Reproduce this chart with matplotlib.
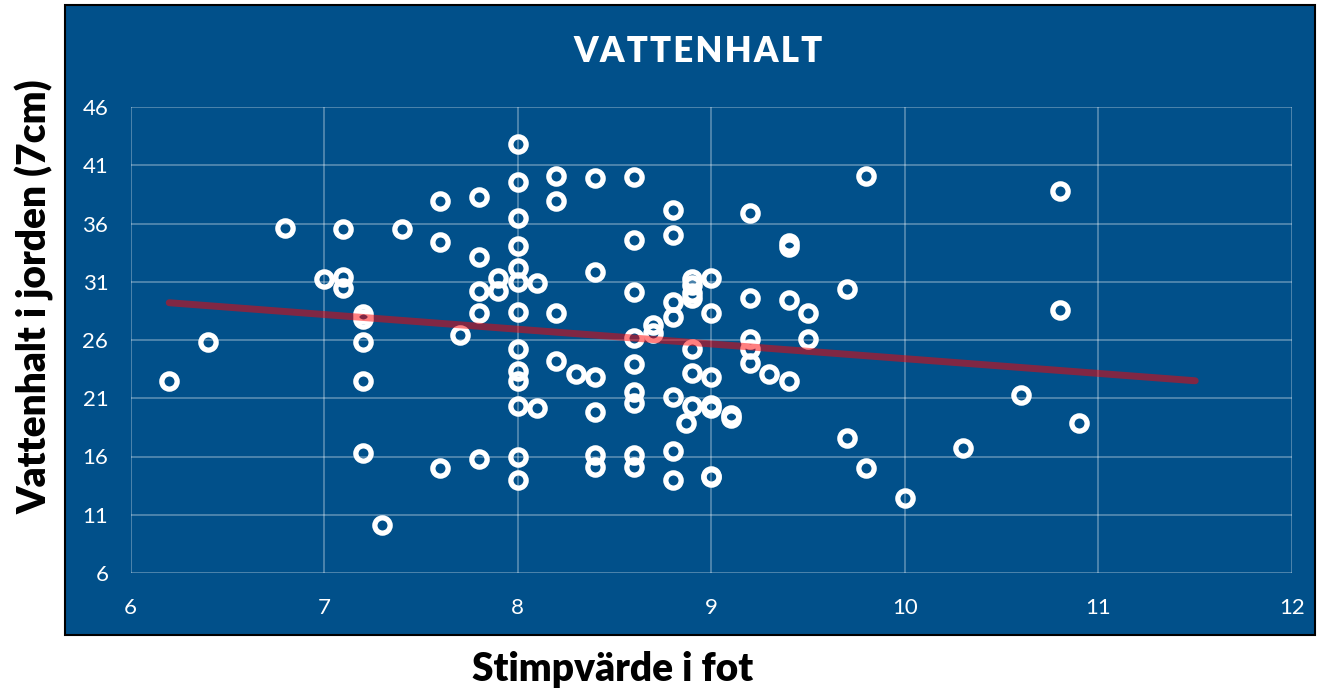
import matplotlib
matplotlib.use('Agg')
import matplotlib.pyplot as plt
from matplotlib.patches import Rectangle

# stimp value (feet) and water content (%) per measurement
stimp = [6.2, 6.4, 6.8, 7.0, 7.1, 7.1, 7.1,
         7.2, 7.2, 7.2, 7.2, 7.2, 7.3, 7.4,
         7.6, 7.6, 7.6, 7.7, 7.8, 7.8, 7.8, 7.8, 7.8, 7.9, 7.9,
         8.0, 8.0, 8.0, 8.0, 8.0, 8.0, 8.0, 8.0, 8.0, 8.0, 8.0, 8.0, 8.0,
         8.1, 8.1, 8.2, 8.2, 8.2, 8.2, 8.3,
         8.4, 8.4, 8.4, 8.4, 8.4, 8.4,
         8.6, 8.6, 8.6, 8.6, 8.6, 8.6, 8.6, 8.6, 8.6,
         8.7, 8.7,
         8.8, 8.8, 8.8, 8.8, 8.8, 8.8, 8.8,
         8.9, 8.9, 8.9, 8.9, 8.9, 8.9, 8.9, 8.87,
         9.0, 9.0, 9.0, 9.0, 9.0, 9.0, 9.0,
         9.1, 9.1, 9.2, 9.2, 9.2, 9.2, 9.2, 9.3,
         9.4, 9.4, 9.4, 9.4, 9.5, 9.5, 9.7, 9.7, 9.8, 9.8,
         10.0, 10.3, 10.6, 10.8, 10.8, 10.9]
vatten = [22.5, 25.8, 35.6, 31.2, 35.5, 31.4, 30.5,
          28.2, 27.8, 25.8, 22.5, 16.3, 10.1, 35.5,
          37.9, 34.4, 15.0, 26.4, 38.3, 33.1, 30.2, 28.3, 15.8, 31.3, 30.2,
          42.8, 39.6, 36.5, 34.1, 32.2, 31.0, 28.4, 25.2, 23.3, 22.5, 20.3, 16.0, 14.0,
          30.9, 20.2, 40.1, 37.9, 28.3, 24.2, 23.05,
          39.9, 31.8, 22.8, 19.8, 16.1, 15.1,
          40.0, 34.6, 30.1, 26.2, 23.9, 21.5, 20.6, 16.1, 15.1,
          27.3, 26.6,
          37.2, 35.0, 29.3, 28.0, 21.1, 16.5, 14.0,
          31.2, 30.7, 30.0, 29.6, 25.2, 23.2, 20.3, 18.85,
          31.35, 28.3, 22.8, 20.4, 20.2, 14.3, 14.2,
          19.6, 19.3, 36.9, 29.6, 26.1, 25.2, 24.0, 23.1,
          34.35, 34.0, 29.4, 22.5, 28.3, 26.1, 30.4, 17.6, 40.1, 15.0,
          12.4, 16.7, 21.3, 38.8, 28.6, 18.85]

# trend line end points as drawn
trend_x = [6.2, 11.5]
trend_y = [29.2, 22.5]

x_ticks = [6, 7, 8, 9, 10, 11, 12]
y_ticks = [6, 11, 16, 21, 26, 31, 36, 41, 46]

blue = '#01508a'

fig = plt.figure(figsize=(13.2, 6.97), dpi=100)
fig.patches.append(Rectangle((65 / 1320, 1 - 635 / 697), 1250 / 1320, 630 / 697,
                             transform=fig.transFigure, facecolor=blue,
                             edgecolor='black', linewidth=1.5, zorder=0))

ax = fig.add_axes([130.5 / 1320, 1 - 573 / 697, 1161.5 / 1320, 466 / 697])
ax.set_zorder(2)
ax.set_facecolor(blue)
ax.set_xlim(6, 12)
ax.set_ylim(6, 46)
ax.set_xticks(x_ticks)
ax.set_yticks(y_ticks)
for s in ax.spines.values():
    s.set_visible(False)
ax.grid(True, color='white', alpha=0.35, linewidth=1.2)
ax.set_axisbelow(True)
ax.tick_params(length=0, colors='white', labelsize=16)
ax.tick_params(axis='x', pad=18)
ax.tick_params(axis='y', pad=16)
for lab in ax.get_xticklabels() + ax.get_yticklabels():
    lab.set_family('Lato')
    lab.set_fontweight('normal')

ax.plot(stimp, vatten, 'o', markersize=11, markerfacecolor='none',
        markeredgecolor='white', markeredgewidth=3.8, clip_on=False, zorder=3)
ax.plot(trend_x, trend_y, '-', color='#ff0000', alpha=0.5, linewidth=5,
        solid_capstyle='round', zorder=4)

fig.text(698 / 1320, 1 - 52 / 697, 'V A T T E N H A L T'.replace(' ', '\u200a'),
         color='white', fontsize=25, fontweight='heavy', family='Lato',
         ha='center', va='center', zorder=5)
fig.text(35 / 1320, 1 - 297 / 697, 'Vattenhalt i jorden (7cm)', rotation=90,
         fontsize=28, fontweight='heavy', family='Lato', ha='center', va='center')
fig.text(613 / 1320, 1 - 670 / 697, 'Stimpvärde i fot',
         fontsize=28, fontweight='heavy', family='Lato', ha='center', va='center')

fig.savefig('out.png', dpi=100)
